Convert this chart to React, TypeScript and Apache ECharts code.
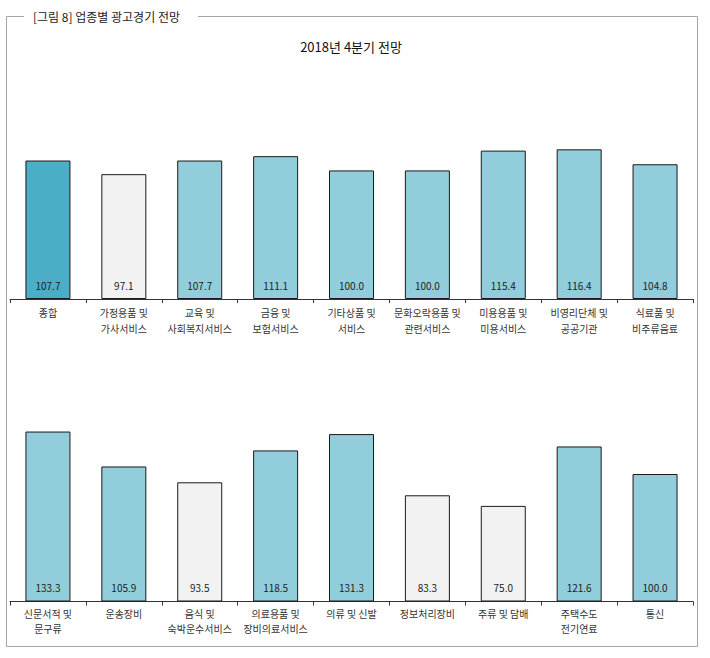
import React, { useEffect, useRef } from "react";
import * as echarts from "echarts";

const titleText = "[그림 8] 업종별 광고경기 전망";
const subtitleText = "2018년 4분기 전망";

const categoriesTop = [
  "종합",
  "가정용품 및\n가사서비스",
  "교육 및\n사회복지서비스",
  "금융 및\n보험서비스",
  "기타상품 및\n서비스",
  "문화오락용품 및\n관련서비스",
  "미용용품 및\n미용서비스",
  "비영리단체 및\n공공기관",
  "식료품 및\n비주류음료",
];
const valuesTop = [107.7, 97.1, 107.7, 111.1, 100.0, 100.0, 115.4, 116.4, 104.8];

const categoriesBottom = [
  "신문서적 및\n문구류",
  "운송장비",
  "음식 및\n숙박운수서비스",
  "의료용품 및\n장비의료서비스",
  "의류 및 신발",
  "정보처리장비",
  "주류 및 담배",
  "주택수도\n전기연료",
  "통신",
];
const valuesBottom = [133.3, 105.9, 93.5, 118.5, 131.3, 83.3, 75.0, 121.6, 100.0];

const FONT = "'Noto Sans CJK KR', 'Noto Sans', sans-serif";
const DARK = "#4aaec6";
const BLUE = "#92cddc";
const GRAY = "#f2f2f2";

function barData(values: number[], highlightFirst: boolean) {
  return values.map((v, i) => ({
    value: v,
    itemStyle: {
      color: highlightFirst && i === 0 ? DARK : v < 100 ? GRAY : BLUE,
    },
  }));
}

export default function App() {
  const ref = useRef<HTMLDivElement>(null);
  useEffect(() => {
    document.body.style.margin = "0";
    if (!ref.current) return;
    const chart = echarts.init(ref.current, undefined, { renderer: "svg" });
    const xAxisBase = {
      type: "category" as const,
      axisLine: { lineStyle: { color: "#333", width: 1 } },
      axisTick: { show: true, length: 4, lineStyle: { color: "#333" } },
      axisLabel: {
        interval: 0,
        margin: 5,
        fontSize: 10,
        lineHeight: 16,
        color: "#333",
        fontFamily: FONT,
      },
    };
    const yAxisBase = {
      type: "value" as const,
      min: 0,
      max: 140,
      show: false,
      splitLine: { show: false },
    };
    const seriesBase = {
      type: "bar" as const,
      barWidth: 45,
      itemStyle: { borderColor: "#1a1a1a", borderWidth: 1 },
      label: {
        show: true,
        position: "insideBottom" as const,
        distance: 9,
        fontSize: 10,
        color: "#222",
        fontFamily: FONT,
        formatter: (p: any) => Number(p.value).toFixed(1),
      },
    };
    chart.setOption({
      animation: false,
      backgroundColor: "#ffffff",
      grid: [
        { left: 10, width: 683, top: 119, height: 180 },
        { left: 10, width: 683, top: 423, height: 178.5 },
      ],
      xAxis: [
        { ...xAxisBase, gridIndex: 0, data: categoriesTop },
        { ...xAxisBase, gridIndex: 1, data: categoriesBottom, axisLabel: { ...xAxisBase.axisLabel, margin: 4, lineHeight: 15.5 } },
      ],
      yAxis: [
        { ...yAxisBase, gridIndex: 0 },
        { ...yAxisBase, gridIndex: 1 },
      ],
      series: [
        { ...seriesBase, xAxisIndex: 0, yAxisIndex: 0, data: barData(valuesTop, true) },
        { ...seriesBase, xAxisIndex: 1, yAxisIndex: 1, data: barData(valuesBottom, false) },
      ],
      graphic: [
        {
          type: "rect",
          shape: { x: 6.5, y: 16.5, width: 691, height: 630 },
          style: { fill: "none", stroke: "#a6a6a6", lineWidth: 1 },
          silent: true,
        },
        {
          type: "rect",
          shape: { x: 24, y: 8, width: 174, height: 17 },
          style: { fill: "#ffffff" },
          silent: true,
        },
        {
          type: "text",
          x: 33,
          y: 16.5,
          style: {
            text: titleText,
            fontSize: 12,
            fontFamily: FONT,
            fill: "#222",
            verticalAlign: "middle",
            align: "left",
          },
          silent: true,
        },
        {
          type: "text",
          x: 351,
          y: 46,
          style: {
            text: subtitleText,
            fontSize: 13,
            fontFamily: FONT,
            fill: "#111",
            verticalAlign: "middle",
            align: "center",
          },
          silent: true,
        },
      ],
    });
    return () => chart.dispose();
  }, []);
  return <div ref={ref} style={{ width: 710, height: 658 }} />;
}
